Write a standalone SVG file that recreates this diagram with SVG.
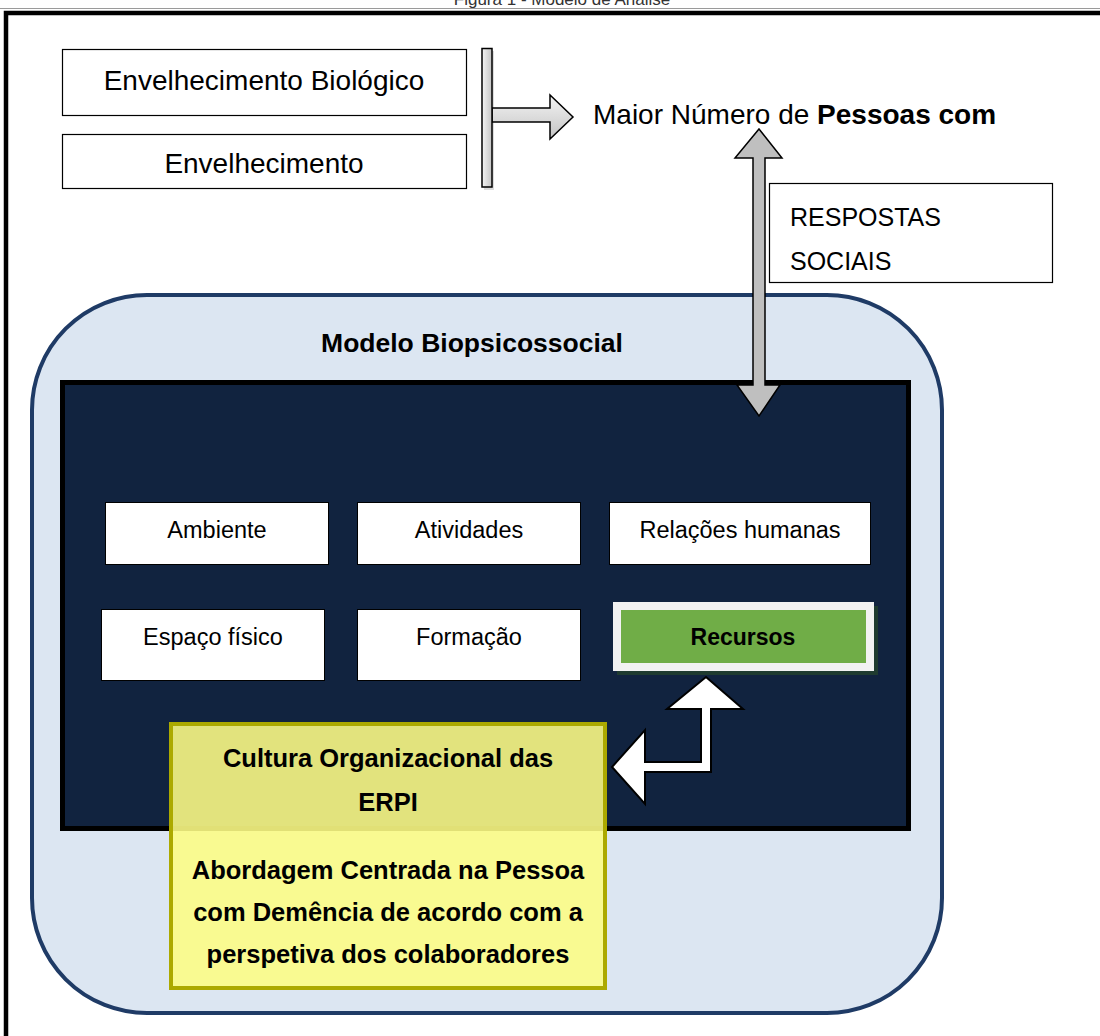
<svg xmlns="http://www.w3.org/2000/svg" width="1100" height="1036" viewBox="0 0 1100 1036">
<style>
  text { font-family: "Liberation Sans", Arial, sans-serif; fill: #000; }
  .box { fill: #fff; stroke: #000; stroke-width: 1.2; }
  .inner { fill: #fff; stroke: #000; stroke-width: 1; }
  .t27 { font-size: 28px; }
  .t25 { font-size: 25px; }
  .t22 { font-size: 23.5px; }
  .b24 { font-size: 25.5px; font-weight: bold; }
  .arrow-gray { fill: #bfbfbf; stroke: #000; stroke-width: 1.5; stroke-linejoin: miter; }
  .arrow-white { fill: #fff; stroke: #000; stroke-width: 2; stroke-linejoin: miter; }
</style>
<defs>
  <linearGradient id="tgrad" x1="0" y1="0" x2="1" y2="0">
    <stop offset="0" stop-color="#f4f4f4"/>
    <stop offset="1" stop-color="#c4c4c4"/>
  </linearGradient>
  <linearGradient id="hgrad" x1="0" y1="0" x2="0" y2="1">
    <stop offset="0" stop-color="#f4f4f4"/>
    <stop offset="1" stop-color="#c4c4c4"/>
  </linearGradient>
</defs>
<rect width="1100" height="1036" fill="#fff"/>

<!-- title (cut off, as in the reference) -->
<text x="562" y="5" text-anchor="middle" style="font-size:17px;fill:#333">Figura 1 - Modelo de Análise</text>
<line x1="0" y1="8.5" x2="1100" y2="8.5" stroke="#9a9a9a" stroke-width="1"/>
<!-- frame -->
<path d="M6,1036 V13 H1100" fill="none" stroke="#000" stroke-width="4.5"/>

<!-- Biopsychosocial container -->
<g id="modelo-biopsicossocial">
  <rect x="32" y="295" width="910" height="718" rx="115" ry="115" fill="#dce6f2" stroke="#1f3b66" stroke-width="4"/>
  <text x="472" y="352" text-anchor="middle" style="font-size:26.5px;font-weight:bold">Modelo Biopsicossocial</text>
</g>
<g id="painel">
  <rect x="62.5" y="382.5" width="846" height="446" fill="#11233f" stroke="#000" stroke-width="5"/>
</g>

<!-- top left boxes -->
<g id="envelhecimento-biologico">
  <rect class="box" x="62.5" y="49.5" width="404" height="66"/>
  <text class="t27" x="264" y="90" text-anchor="middle">Envelhecimento Biológico</text>
</g>
<g id="envelhecimento">
  <rect class="box" x="62.5" y="134.5" width="404" height="54"/>
  <text class="t27" x="264" y="173" text-anchor="middle">Envelhecimento</text>
</g>

<g id="maior-numero">
  <text class="t27" x="593" y="124">Maior Número de <tspan font-weight="bold">Pessoas com</tspan></text>
</g>

<g id="respostas-sociais">
  <rect class="box" x="769.5" y="183.5" width="283" height="99"/>
  <text class="t25" x="790" y="226">RESPOSTAS</text>
  <text class="t25" x="790" y="270">SOCIAIS</text>
</g>

<!-- inner boxes -->
<g id="ambiente">
  <rect class="inner" x="105.5" y="502.5" width="223" height="62"/>
  <text class="t22" x="217" y="538" text-anchor="middle">Ambiente</text>
</g>
<g id="atividades">
  <rect class="inner" x="357.5" y="502.5" width="223" height="62"/>
  <text class="t22" x="469" y="538" text-anchor="middle">Atividades</text>
</g>
<g id="relacoes-humanas">
  <rect class="inner" x="609.5" y="502.5" width="261" height="62"/>
  <text class="t22" x="740" y="538" text-anchor="middle">Relações humanas</text>
</g>
<g id="espaco-fisico">
  <rect class="inner" x="101.5" y="609.5" width="223" height="71"/>
  <text class="t22" x="213" y="645" text-anchor="middle">Espaço físico</text>
</g>
<g id="formacao">
  <rect class="inner" x="357.5" y="609.5" width="223" height="71"/>
  <text class="t22" x="469" y="645" text-anchor="middle">Formação</text>
</g>
<g id="recursos">
  <rect x="617" y="606" width="261" height="69" fill="#1f3b30"/>
  <rect x="613" y="602" width="261" height="69" fill="#f2f2f2"/>
  <rect x="621" y="610" width="245" height="53" fill="#70ad47"/>
  <text x="743" y="645" text-anchor="middle" style="font-size:23px;font-weight:bold">Recursos</text>
</g>

<!-- yellow box -->
<g id="cultura-organizacional">
  <rect x="171" y="724" width="434" height="264" fill="#fdfc85" fill-opacity="0.89" stroke="#aca900" stroke-width="4"/>
  <text class="b24" x="388" y="767" text-anchor="middle">Cultura Organizacional das</text>
  <text class="b24" x="388" y="811" text-anchor="middle">ERPI</text>
  <text class="b24" x="388" y="879" text-anchor="middle">Abordagem Centrada na Pessoa</text>
  <text class="b24" x="388" y="921" text-anchor="middle">com Demência de acordo com a</text>
  <text class="b24" x="388" y="963" text-anchor="middle">perspetiva dos colaboradores</text>
</g>

<!-- connectors -->
<g id="conectores">
  <!-- T arrow -->
  <rect x="484" y="51" width="10" height="139" fill="#bbb" opacity="0.5"/>
  <path d="M492,108 H550 V95 L573,117 L550,139 V122 H492 Z" fill="url(#hgrad)" stroke="#000" stroke-width="1.5"/>
  <rect x="482" y="48.5" width="10" height="138.5" fill="url(#tgrad)" stroke="#000" stroke-width="1.5"/>
  <!-- double vertical arrow -->
  <path class="arrow-gray" d="M759,129 L782,158 H765 V385 H780 L759,416 L737,385 H753 V158 H735 Z"/>
  <!-- bent arrow -->
  <path class="arrow-white" d="M706,677 L743,709 H711 V772 H645 V804 L612,767 L645,730 V762 H701 V709 H667 Z"/>
</g>
</svg>
